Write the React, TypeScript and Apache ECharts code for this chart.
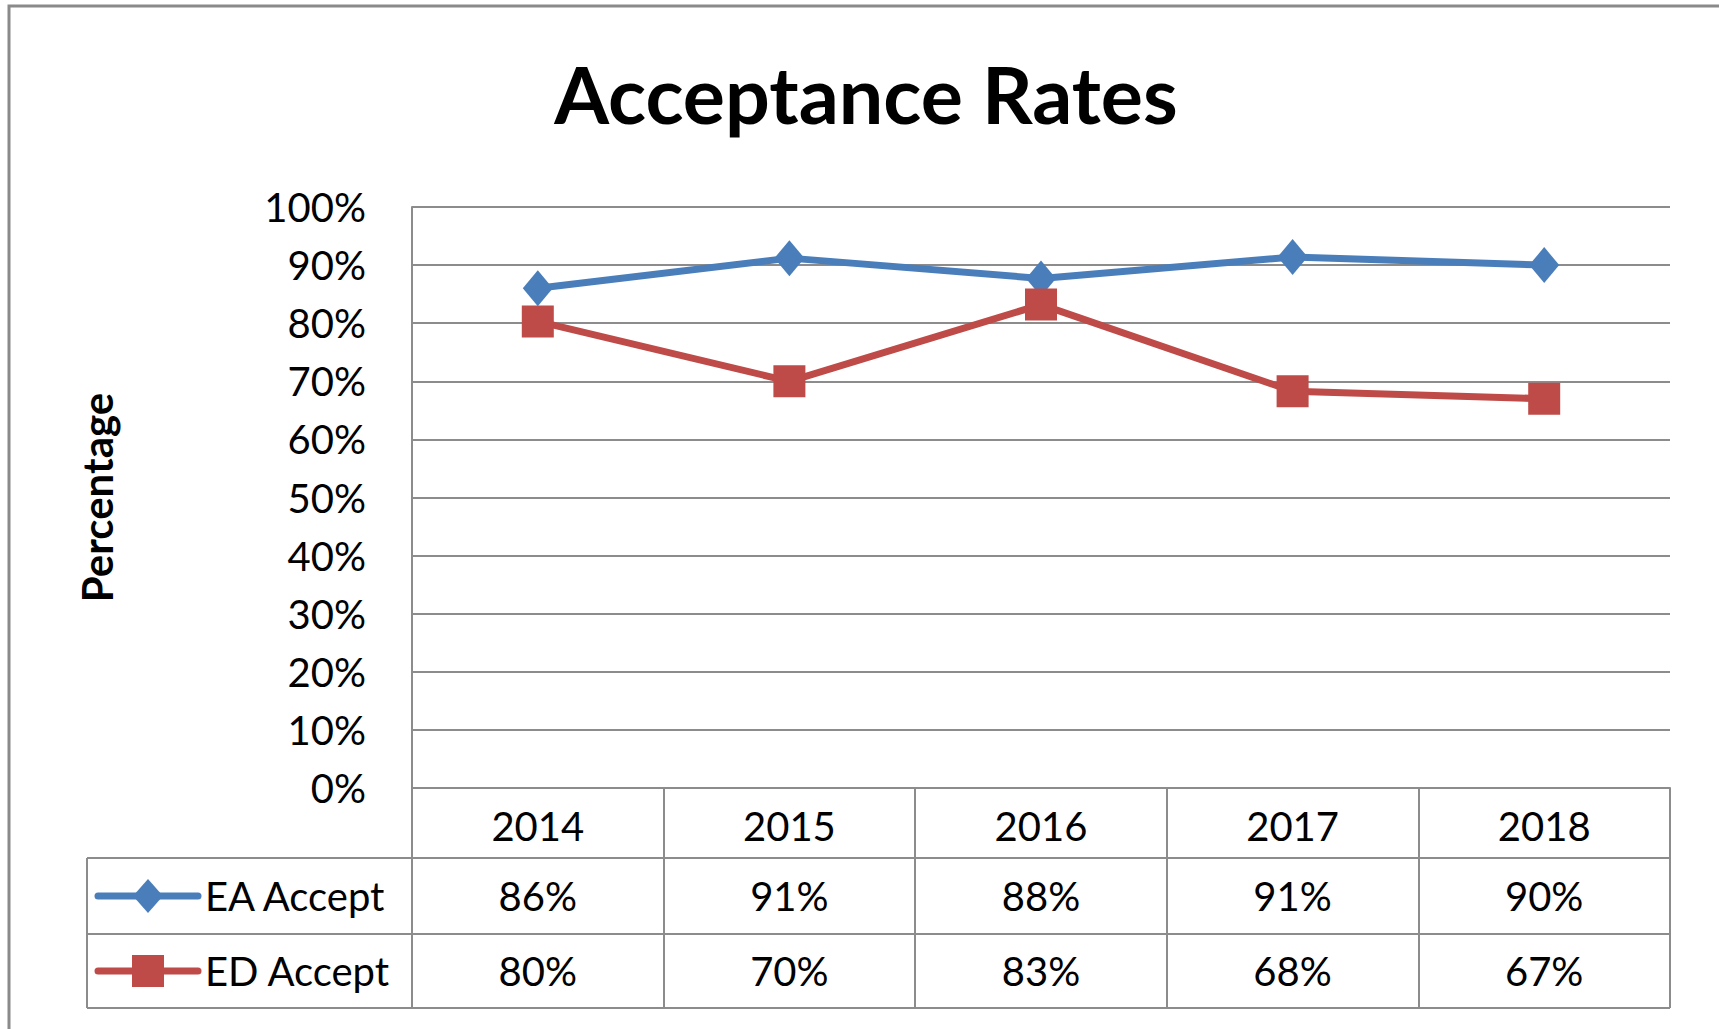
import React, { useEffect, useRef } from "react";
import * as echarts from "echarts";

const categories = ["2014", "2015", "2016", "2017", "2018"];
const eaAccept = [0.86, 0.912, 0.877, 0.914, 0.9];
const edAccept = [0.803, 0.7, 0.832, 0.683, 0.67];
const seriesNames = ["EA Accept", "ED Accept"];
const yTickValues = [0, 0.1, 0.2, 0.3, 0.4, 0.5, 0.6, 0.7, 0.8, 0.9, 1.0];

const BLUE = "#4A7EBB";
const RED = "#BE4B48";
const GRAY = "#8c8c8c";
const FONT = "Lato, 'Open Sans', sans-serif";

const W = 1719;
const H = 1029;
const GRID_LEFT = 412;
const GRID_RIGHT = 1670;
const GRID_TOP = 207;
const GRID_BOTTOM = 788;
const ROW1_TOP = 858;
const ROW2_TOP = 934;
const TABLE_BOTTOM = 1008;
const TABLE_LEFT = 87;

const pct = (v: number) => Math.round(v * 100) + "%";

export default function App() {
  const ref = useRef<HTMLDivElement>(null);

  useEffect(() => {
    if (!ref.current) return;
    const chart = echarts.init(ref.current, null, { renderer: "svg" });
    chart.setOption({
      animation: false,
      backgroundColor: "#ffffff",
      title: {
        text: "Acceptance Rates",
        left: 861,
        textAlign: "center",
        top: 49,
        textStyle: {
          fontFamily: FONT,
          fontWeight: "bold",
          fontSize: 79,
          color: "#000000",
        },
      },
      grid: {
        left: GRID_LEFT,
        right: W - GRID_RIGHT,
        top: GRID_TOP,
        bottom: H - GRID_BOTTOM,
        containLabel: false,
      },
      xAxis: {
        type: "category",
        data: categories,
        boundaryGap: true,
        axisLine: { show: true, lineStyle: { color: GRAY, width: 2 } },
        axisTick: {
          show: true,
          interval: 0,
          length: TABLE_BOTTOM - GRID_BOTTOM,
          lineStyle: { color: GRAY, width: 2 },
        },
        axisLabel: {
          interval: 0,
          margin: 18,
          fontFamily: FONT,
          fontSize: 40,
          lineHeight: 40,
          color: "#000000",
        },
        splitLine: { show: false },
      },
      yAxis: {
        type: "value",
        min: yTickValues[0],
        max: yTickValues[yTickValues.length - 1],
        interval: 0.1,
        name: "Percentage",
        nameLocation: "middle",
        nameRotate: 90,
        nameGap: GRID_LEFT - 118,
        nameTextStyle: {
          fontFamily: FONT,
          fontWeight: "bold",
          fontSize: 42,
          color: "#000000",
        },
        axisLine: { show: true, lineStyle: { color: GRAY, width: 2 } },
        axisTick: { show: false },
        axisLabel: {
          margin: 46,
          fontFamily: FONT,
          fontSize: 40,
          color: "#000000",
          formatter: (v: number) => pct(v),
        },
        splitLine: { show: true, lineStyle: { color: GRAY, width: 2 } },
      },
      series: [
        {
          name: seriesNames[0],
          type: "line",
          data: eaAccept,
          symbol: "diamond",
          symbolSize: [30, 36],
          lineStyle: { color: BLUE, width: 7 },
          itemStyle: { color: BLUE },
        },
        {
          name: seriesNames[1],
          type: "line",
          data: edAccept,
          symbol: "rect",
          symbolSize: 32,
          lineStyle: { color: RED, width: 7 },
          itemStyle: { color: RED },
        },
      ],
    });

    const centers = categories.map((_, i) => chart.convertToPixel({ xAxisIndex: 0 }, i) as number);
    const row1Y = (ROW1_TOP + ROW2_TOP) / 2;
    const row2Y = (ROW2_TOP + TABLE_BOTTOM) / 2;
    const lineStyle = { stroke: GRAY, lineWidth: 2 };
    const textStyle = (text: string, align: string) => ({
      text,
      fill: "#000000",
      fontSize: 40,
      fontFamily: FONT,
      textAlign: align,
      textVerticalAlign: "middle",
    });

    const graphic: any[] = [
      {
        type: "rect",
        shape: { x: 9, y: 6, width: 2000, height: 2000 },
        style: { fill: "none", stroke: "#8a8a8a", lineWidth: 3 },
        silent: true,
      },
      { type: "line", shape: { x1: TABLE_LEFT, y1: ROW1_TOP, x2: GRID_RIGHT, y2: ROW1_TOP }, style: lineStyle },
      { type: "line", shape: { x1: TABLE_LEFT, y1: ROW2_TOP, x2: GRID_RIGHT, y2: ROW2_TOP }, style: lineStyle },
      { type: "line", shape: { x1: TABLE_LEFT, y1: TABLE_BOTTOM, x2: GRID_RIGHT, y2: TABLE_BOTTOM }, style: lineStyle },
      { type: "line", shape: { x1: TABLE_LEFT, y1: ROW1_TOP, x2: TABLE_LEFT, y2: TABLE_BOTTOM }, style: lineStyle },
      // legend keys
      { type: "line", shape: { x1: 98, y1: row1Y, x2: 198, y2: row1Y }, style: { stroke: BLUE, lineWidth: 7, lineCap: "round" } },
      {
        type: "polygon",
        shape: { points: [[148, row1Y - 17], [163, row1Y], [148, row1Y + 17], [133, row1Y]] },
        style: { fill: BLUE },
      },
      { type: "line", shape: { x1: 98, y1: row2Y, x2: 198, y2: row2Y }, style: { stroke: RED, lineWidth: 7, lineCap: "round" } },
      { type: "rect", shape: { x: 132, y: row2Y - 16, width: 32, height: 32 }, style: { fill: RED } },
      { type: "text", x: 205, y: row1Y, style: textStyle(seriesNames[0], "left") },
      { type: "text", x: 205, y: row2Y, style: textStyle(seriesNames[1], "left") },
    ];
    centers.forEach((cx, i) => {
      graphic.push({ type: "text", x: cx, y: row1Y, style: textStyle(pct(eaAccept[i]), "center") });
      graphic.push({ type: "text", x: cx, y: row2Y, style: textStyle(pct(edAccept[i]), "center") });
    });
    chart.setOption({ graphic });

    return () => chart.dispose();
  }, []);

  return (
    <div
      ref={ref}
      style={{ position: "fixed", left: 0, top: 0, width: W, height: H, background: "#fff" }}
    />
  );
}
